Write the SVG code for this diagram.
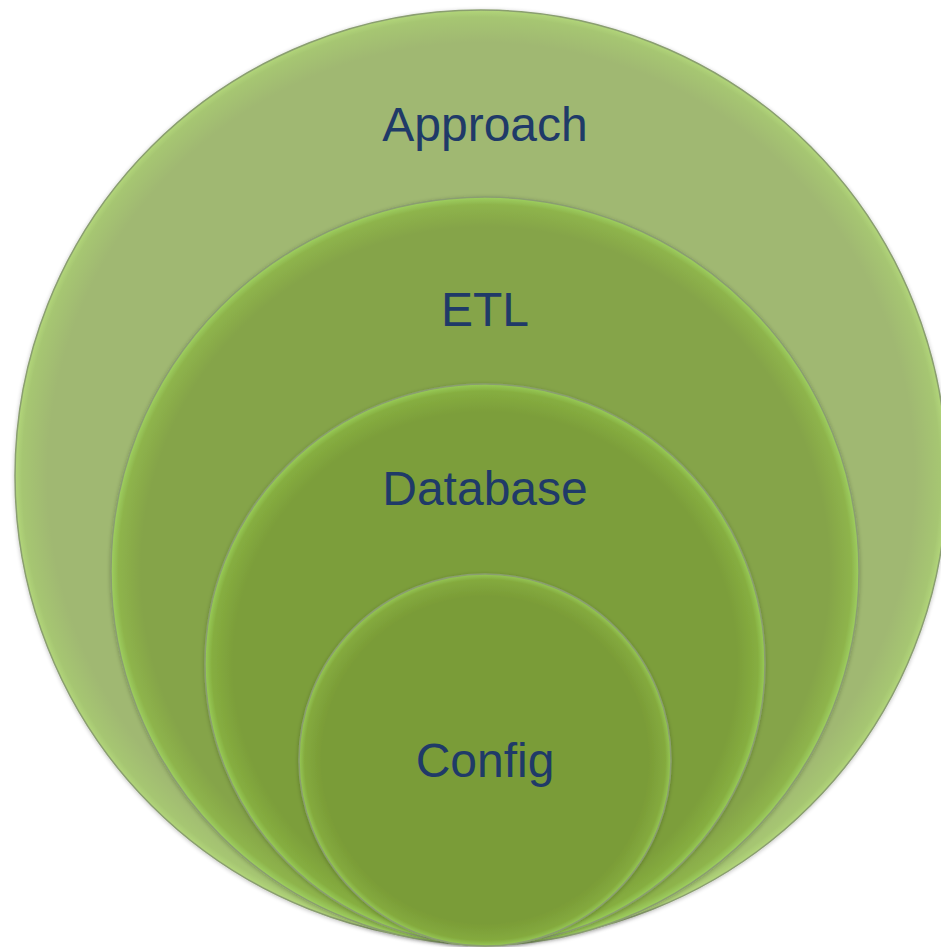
<svg xmlns="http://www.w3.org/2000/svg" width="941" height="947" viewBox="0 0 941 947">
<defs>
<radialGradient id="g1" cx="0.5" cy="0.5" r="0.5">
<stop offset="0.93" stop-color="#A0B872"/>
<stop offset="0.985" stop-color="#A6C672"/>
<stop offset="1" stop-color="#B2D67A"/>
</radialGradient>
<radialGradient id="g2" cx="0.5" cy="0.5" r="0.5">
<stop offset="0.92" stop-color="#85A448"/>
<stop offset="0.98" stop-color="#8EB44C"/>
<stop offset="1" stop-color="#9ED060"/>
</radialGradient>
<radialGradient id="g3" cx="0.5" cy="0.5" r="0.5">
<stop offset="0.9" stop-color="#7C9E3A"/>
<stop offset="0.975" stop-color="#86AE40"/>
<stop offset="1" stop-color="#98CC58"/>
</radialGradient>
<radialGradient id="g4" cx="0.5" cy="0.5" r="0.5">
<stop offset="0.88" stop-color="#7A9C37"/>
<stop offset="0.97" stop-color="#84AA3E"/>
<stop offset="1" stop-color="#96C856"/>
</radialGradient>
<filter id="sh" x="-10%" y="-10%" width="120%" height="120%">
<feGaussianBlur in="SourceAlpha" stdDeviation="2"/>
<feOffset dx="0" dy="1"/>
<feComponentTransfer><feFuncA type="linear" slope="0.25"/></feComponentTransfer>
<feMerge><feMergeNode/><feMergeNode in="SourceGraphic"/></feMerge>
</filter>
</defs>
<style>
.ring{stroke:#8A9E70;stroke-width:1.5;filter:url(#sh)}
.lbl{font-family:"Liberation Sans",Arial,sans-serif;font-size:48px;fill:#1F3A68;text-anchor:middle}
</style>
<g id="approach">
<circle class="ring" cx="481" cy="476" r="466" fill="url(#g1)"/>
<text class="lbl" x="485" y="141">Approach</text>
</g>
<g id="etl">
<circle class="ring" cx="485" cy="571" r="374" fill="url(#g2)"/>
<text class="lbl" x="485" y="326">ETL</text>
</g>
<g id="database">
<circle class="ring" cx="485" cy="664" r="280" fill="url(#g3)"/>
<text class="lbl" x="485" y="505">Database</text>
</g>
<g id="config">
<circle class="ring" cx="485" cy="760" r="186" fill="url(#g4)"/>
<text class="lbl" x="485" y="777">Config</text>
</g>
<g id="connectors"/>
</svg>
